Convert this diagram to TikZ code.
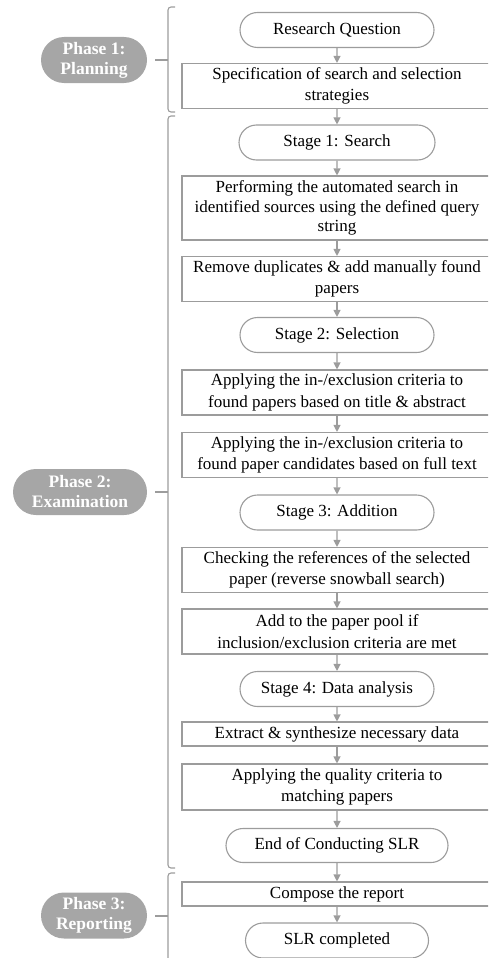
\documentclass[tikz,border=0pt]{standalone}
\usepackage{fontspec}
\setmainfont{Liberation Serif}
\usetikzlibrary{arrows.meta,shapes.misc}

\definecolor{linegray}{HTML}{9C9C9C}
\definecolor{phasegray}{HTML}{A6A6A6}

\tikzset{
    stepbox/.style={draw=linegray, line width=1.1pt, fill=white, minimum width=310pt,
        inner sep=1pt, align=center, font=\fontsize{17}{21.5}\selectfont},
    stage/.style={draw=linegray, line width=1.1pt, fill=white, rounded rectangle,
        minimum width=196pt, minimum height=35pt, inner sep=1pt,
        font=\fontsize{17}{21.5}\selectfont},
    phase/.style={fill=phasegray, rounded rectangle, text=white, align=center,
        minimum height=46pt, minimum width=108pt, inner sep=1pt,
        font=\bfseries\fontsize{17.5}{20}\selectfont},
    flow/.style={draw=linegray, line width=1.1pt, -{Triangle[width=7pt,length=7pt]}},
    brace/.style={draw=linegray, line width=1.1pt, rounded corners=3pt}
}

\begin{document}
\begin{tikzpicture}[x=1pt, y=-1pt]
    \clip (0,0) rectangle (488,958);

    % phases
    \node[phase] (p1) at (94,60) {Phase 1:\\Planning};
    \node[phase, minimum width=136pt] (p2) at (80,492) {Phase 2:\\Examination};
    \node[phase] (p3) at (94,915.5) {Phase 3:\\Reporting};

    % braces
    \draw[brace] (175,7) -- (168,7) -- (168,112) -- (175,112);
    \draw[brace] (175,116) -- (168,116) -- (168,868) -- (175,868);
    \draw[brace] (175,873) -- (168,873) -- (168,970);
    \coordinate (t1) at (155,60);
    \coordinate (t2) at (155,492);
    \coordinate (t3) at (155,916);
    \draw[linegray, line width=1.1pt] (t1) -- (168,60);
    \draw[linegray, line width=1.1pt] (t2) -- (168,492);
    \draw[linegray, line width=1.1pt] (t3) -- (168,916);

    % flow
    \node[stage] (rq) at (337,30) {Research Question};
    \node[stepbox, minimum height=45pt] (spec) at (337,86) {Specification of search and selection\\strategies};
    \node[stage, minimum width=198pt] (s1) at (337,142.5) {Stage 1: Search};
    \node[stepbox, minimum height=64pt, font=\fontsize{17}{19.8}\selectfont] (perf) at (337,208) {Performing the automated search in\\identified sources using the defined query\\string};
    \node[stepbox, minimum height=45pt] (rem) at (337,279) {Remove duplicates \& add manually found\\papers};
    \node[stage] (s2) at (337,335) {Stage 2: Selection};
    \node[stepbox, minimum height=45pt] (app1) at (337,392.5) {Applying the in-/exclusion criteria to\\found papers based on title \& abstract};
    \node[stepbox, minimum height=45pt] (app2) at (337,455) {Applying the in-/exclusion criteria to\\found paper candidates based on full text};
    \node[stage] (s3) at (337,512.5) {Stage 3: Addition};
    \node[stepbox, minimum height=45pt] (chk) at (337,570) {Checking the references of the selected\\paper (reverse snowball search)};
    \node[stepbox, minimum height=45pt] (add) at (337,631.5) {Add to the paper pool if\\inclusion/exclusion criteria are met};
    \node[stage] (s4) at (337,689) {Stage 4: Data analysis};
    \node[stepbox, minimum height=24pt] (ext) at (337,734) {Extract \& synthesize necessary data};
    \node[stepbox, minimum height=46pt] (qual) at (337,787) {Applying the quality criteria to\\matching papers};
    \node[stage, minimum width=224pt, minimum height=34pt] (end) at (337,845.5) {End of Conducting SLR};
    \node[stepbox, minimum height=24pt] (comp) at (337,894) {Compose the report};
    \node[stage, minimum width=185pt] (done) at (337,940.5) {SLR completed};

    \foreach \a/\b in {rq/spec, spec/s1, s1/perf, perf/rem, rem/s2, s2/app1, app1/app2,
        app2/s3, s3/chk, chk/add, add/s4, s4/ext, ext/qual, qual/end, end/comp, comp/done}
        \draw[flow] (\a) -- (\b);
\end{tikzpicture}
\end{document}
